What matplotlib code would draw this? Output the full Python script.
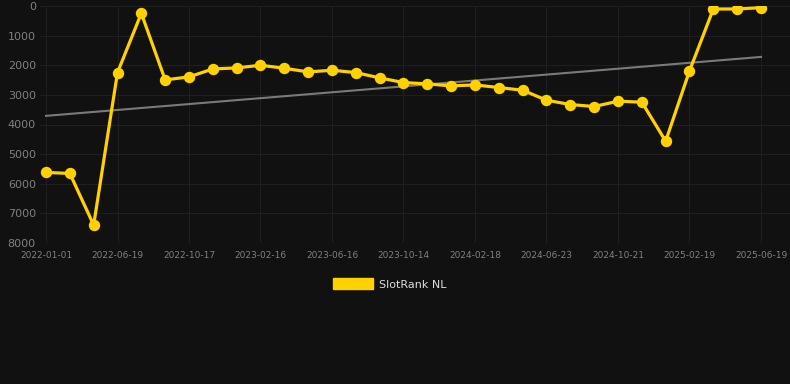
import matplotlib
matplotlib.use("Agg")
import matplotlib.pyplot as plt
from matplotlib.patches import Patch
import numpy as np

tick_labels = ["2022-01-01", "2022-06-19", "2022-10-17", "2023-02-16", "2023-06-16",
               "2023-10-14", "2024-02-18", "2024-06-23", "2024-10-21", "2025-02-19", "2025-06-19"]
rank = [5618, 5652, 7393, 2247, 247, 2494, 2393, 2124, 2090, 2000, 2101, 2225, 2169, 2247,
        2427, 2584, 2629, 2697, 2663, 2753, 2843, 3180, 3326, 3393, 3213, 3247, 4562, 2191,
        101, 101, 56]
trend = [3708, 1719]
series_name = "SlotRank NL"

BG = "#111111"
GOLD = "#FFD100"

fig = plt.figure(figsize=(7.9, 3.84), dpi=100, facecolor=BG)
ax = fig.add_axes([40 / 790, 1 - 243 / 384, 750 / 790, 237 / 384], facecolor=BG)

x = np.arange(len(rank))
ax.plot([x[0], x[-1]], trend, color="#7a7a7a", lw=1.5, zorder=2)
ax.plot(x, rank, color=GOLD, lw=2.3, marker="o", markersize=7.2, zorder=3)

step = 23.83
ax.set_xlim(-6 / step, len(rank) - 1 + 29 / step)
ax.set_ylim(8000, 0)
ax.set_yticks(np.arange(0, 8001, 1000))
ax.set_xticks(x[::3])
ax.set_xticklabels(tick_labels)
ax.grid(True, color="#1f1f1f", lw=0.8)
ax.set_axisbelow(True)
for s in ax.spines.values():
    s.set_visible(False)
ax.tick_params(axis="both", length=0, colors="#808080")
ax.tick_params(axis="y", labelsize=8, pad=3)
ax.tick_params(axis="x", labelsize=6.5, pad=6)

fig.legend(handles=[Patch(facecolor=GOLD, edgecolor=GOLD)], labels=[series_name],
           loc="center", bbox_to_anchor=(390 / 790, 1 - 284 / 384), frameon=False,
           handlelength=3.6, handleheight=1.1, fontsize=8, labelcolor="#dddddd",
           handletextpad=0.5)

fig.savefig("out.png", dpi=100, facecolor=BG)
